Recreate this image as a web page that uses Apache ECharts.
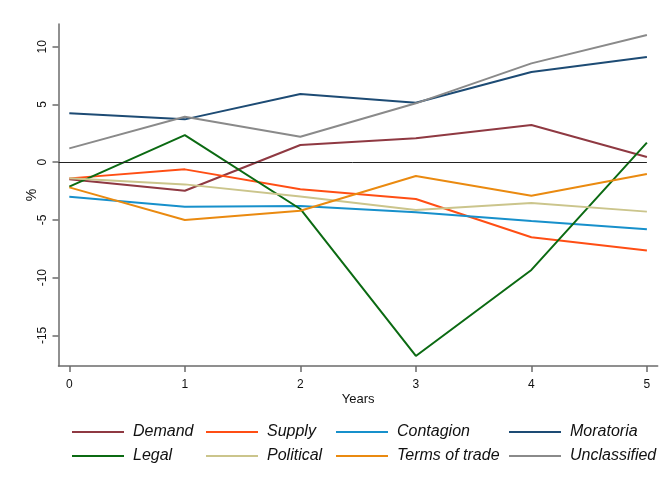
<!DOCTYPE html>
<html>
<head>
<meta charset="utf-8">
<script src="https://cdn.jsdelivr.net/npm/echarts@6/dist/echarts.min.js"></script>
<style>
  html, body { margin: 0; padding: 0; background: #ffffff; }
  #chart { width: 672px; height: 490px; }
</style>
</head>
<body>
<div id="chart"></div>
<script>
// Years since the event and the response (in %) for each category
const years = [0, 1, 2, 3, 4, 5];
const yTicks = [-15, -10, -5, 0, 5, 10];

const demand       = [-1.48, -2.47,  1.49,   2.07,  3.22,  0.45];
const supply       = [-1.40, -0.62, -2.35,  -3.19, -6.50, -7.65];
const contagion    = [-2.99, -3.85, -3.79,  -4.34, -5.09, -5.81];
const moratoria    = [ 4.23,  3.71,  5.90,   5.15,  7.81,  9.11];
const legal        = [-2.12,  2.35, -4.05, -16.78, -9.33,  1.69];
const political    = [-1.40, -1.92, -2.98,  -4.14, -3.53, -4.28];
const termsOfTrade = [-2.18, -5.00, -4.20,  -1.19, -2.90, -1.02];
const unclassified = [ 1.20,  3.94,  2.21,   5.10,  8.56, 11.01];

const FONT = 'Liberation Sans, Arial, sans-serif';
const AXIS_COLOR = '#6b6b6b';

const seriesDefs = [
  { name: 'Demand',         data: demand,       color: '#8f3942' },
  { name: 'Supply',         data: supply,       color: '#ff4e14' },
  { name: 'Contagion',      data: contagion,    color: '#1790cb' },
  { name: 'Moratoria',      data: moratoria,    color: '#1d4b74' },
  { name: 'Legal',          data: legal,        color: '#0b6a12' },
  { name: 'Political',      data: political,    color: '#cbc58c' },
  { name: 'Terms of trade', data: termsOfTrade, color: '#ea8a10' },
  { name: 'Unclassified',   data: unclassified, color: '#8a8a8a' }
];

const xMin = -0.0935, xMax = 5.0935;
const yMin = -17.65, yMax = 11.97;

const series = seriesDefs.map(function (s) {
  return {
    name: s.name,
    type: 'line',
    data: years.map(function (x, i) { return [x, s.data[i]]; }),
    showSymbol: false,
    symbol: 'none',
    lineStyle: { color: s.color, width: 2 },
    itemStyle: { color: s.color },
    z: 3
  };
});

// Reference line at zero
series.push({
  name: 'zero',
  type: 'line',
  data: [],
  silent: true,
  markLine: {
    silent: true,
    symbol: 'none',
    label: { show: false },
    lineStyle: { color: '#222222', width: 1, type: 'solid' },
    data: [[{ coord: [xMin, 0] }, { coord: [years[years.length - 1], 0] }]]
  },
  z: 2
});

const legendColumns = [
  { items: ['Demand', 'Legal'],              left: 72 },
  { items: ['Supply', 'Political'],          left: 206 },
  { items: ['Contagion', 'Terms of trade'],  left: 336 },
  { items: ['Moratoria', 'Unclassified'],    left: 509 }
];

const legends = legendColumns.map(function (c) {
  return {
    data: c.items,
    orient: 'vertical',
    left: c.left,
    top: 423,
    padding: 0,
    itemGap: 6,
    itemWidth: 52,
    itemHeight: 2,
    icon: 'rect',
    selectedMode: false,
    textStyle: {
      fontFamily: FONT,
      fontSize: 16,
      fontStyle: 'italic',
      color: '#111111',
      lineHeight: 18,
      padding: [0, 0, 0, 4]
    }
  };
});

const chart = echarts.init(document.getElementById('chart'), null, { renderer: 'canvas' });
chart.setOption({
  backgroundColor: '#ffffff',
  animation: false,
  grid: { left: 58.5, right: 14.3, top: 24, bottom: 124, containLabel: false },
  legend: legends,
  xAxis: {
    type: 'value',
    min: xMin,
    max: xMax,
    name: 'Years',
    nameLocation: 'middle',
    nameGap: 27,
    nameMoveOverlap: false,
    nameTextStyle: { fontFamily: FONT, fontSize: 13, color: '#111111' },
    axisLine: { show: true, onZero: false, lineStyle: { color: AXIS_COLOR, width: 1.5 } },
    axisTick: { show: true, length: 6, customValues: years, lineStyle: { color: AXIS_COLOR, width: 1.5 } },
    axisLabel: { customValues: years, margin: 13, fontFamily: FONT, fontSize: 12, color: '#111111' },
    splitLine: { show: false }
  },
  yAxis: {
    type: 'value',
    min: yMin,
    max: yMax,
    name: '%',
    nameLocation: 'middle',
    nameGap: 19,
    nameRotate: 90,
    nameMoveOverlap: false,
    nameTextStyle: { fontFamily: FONT, fontSize: 14, color: '#111111' },
    axisLine: { show: true, onZero: false, lineStyle: { color: AXIS_COLOR, width: 1.5 } },
    axisTick: { show: true, length: 6, customValues: yTicks, lineStyle: { color: AXIS_COLOR, width: 1.5 } },
    axisLabel: { customValues: yTicks, rotate: 90, margin: 10, fontFamily: FONT, fontSize: 12, color: '#111111' },
    splitLine: { show: false }
  },
  series: series
});
</script>
</body>
</html>
